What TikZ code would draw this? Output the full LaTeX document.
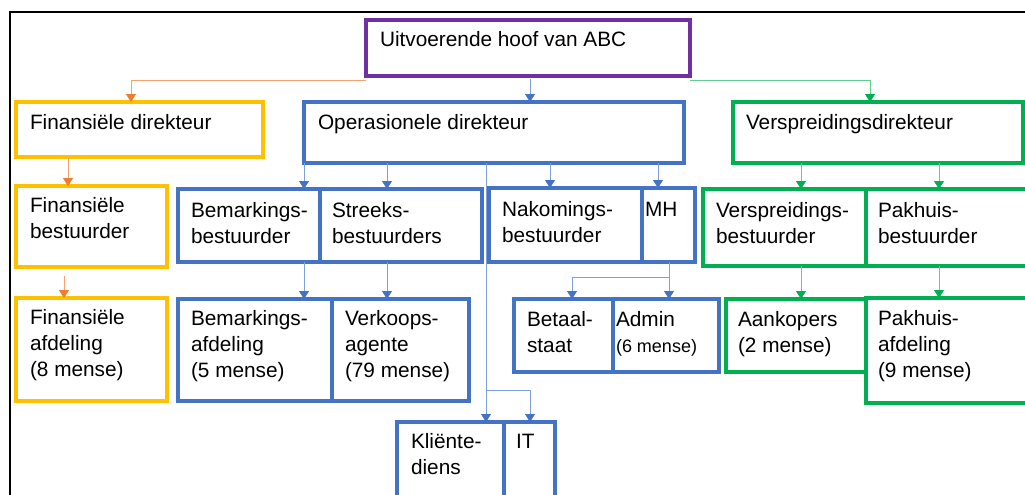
\documentclass[tikz,border=0pt]{standalone}
\usepackage{fontspec}
\setmainfont{Liberation Sans}
\usetikzlibrary{arrows.meta,calc}
\definecolor{cpurple}{HTML}{7030A0}
\definecolor{cyellow}{HTML}{FFC000}
\definecolor{cblue}{HTML}{4472C4}
\definecolor{cgreen}{HTML}{00B050}
\definecolor{corange}{HTML}{ED7D31}
\definecolor{lorange}{HTML}{F4A36C}
\definecolor{lblue}{HTML}{7D9FDA}
\definecolor{lgreen}{HTML}{5FCF8E}
\newcommand\lnstrut{\rule{0pt}{16pt}}
\newcommand\mainsz{\fontsize{20.8}{26.3}\selectfont}
\newcommand\smallsz{\fontsize{18}{26.3}\selectfont}
\tikzset{
  box/.style={draw=#1, line width=3.2pt, anchor=north west, inner sep=0pt,
              outer sep=0pt, fill=white},
  txt/.style={anchor=north west, inner sep=0pt, outer sep=0pt, align=left,
              font=\mainsz, text=black},
  conn/.style={line width=1pt, draw=#1},
  tipo/.style={-{Triangle[width=10pt,length=8pt,color=corange]}},
  tipb/.style={-{Triangle[width=10pt,length=8pt,color=cblue]}},
  tipg/.style={-{Triangle[width=10pt,length=8pt,color=cgreen]}},
}
\begin{document}
\begin{tikzpicture}[x=1pt,y=-1pt]
\clip (0,0) rectangle (1025,495);
% frame
\draw[line width=2pt] (10,520) -- (10,12) -- (1040,12);

% top level
\node[box=cpurple, minimum width=324pt, minimum height=56pt] (ceo) at (366,20) {};
% directors
\node[box=cyellow, minimum width=247pt, minimum height=55pt] (fd) at (16,102) {};
\node[box=cblue,   minimum width=380pt, minimum height=61pt] (od) at (304,102) {};
\node[box=cgreen,  minimum width=290pt, minimum height=61pt] (vd) at (733,102) {};
% managers
\node[box=cyellow, minimum width=151pt, minimum height=81pt] (fb) at (16,186) {};
\node[box=cblue,   minimum width=142pt, minimum height=73pt] (bemb) at (178,189) {};
\node[box=cblue,   minimum width=162pt, minimum height=73pt] (strb) at (320,189) {};
\node[box=cblue,   minimum width=153pt, minimum height=74pt] (nakb) at (489,188) {};
\node[box=cblue,   minimum width=53pt,  minimum height=74pt] (mh) at (642,188) {};
\node[box=cgreen,  minimum width=163pt, minimum height=77pt] (vb) at (703,189) {};
\node[box=cgreen,  minimum width=180pt, minimum height=77pt] (pb) at (866,189) {};
% departments
\node[box=cyellow, minimum width=151pt, minimum height=103pt] (fa) at (16,298) {};
\node[box=cblue,   minimum width=154pt, minimum height=102pt] (bema) at (178,299) {};
\node[box=cblue,   minimum width=137pt, minimum height=102pt] (verk) at (332,299) {};
\node[box=cblue,   minimum width=99pt,  minimum height=73pt] (bet) at (514,299) {};
\node[box=cblue,   minimum width=106pt, minimum height=73pt] (adm) at (613,299) {};
\node[box=cgreen,  minimum width=140pt, minimum height=73pt] (aank) at (726,299) {};
\node[box=cgreen,  minimum width=180pt, minimum height=105pt] (pa) at (866,298) {};
\node[box=cblue,   minimum width=107pt, minimum height=90pt] (kd) at (397,422) {};
\node[box=cblue,   minimum width=51pt,  minimum height=90pt] (it) at (504,422) {};

% labels
\node[txt, xshift=14pt, yshift=-11pt] (ceo-t) at (ceo.north west) {\lnstrut Uitvoerende hoof van ABC};
\node[txt, xshift=14pt, yshift=-11pt] (fd-t) at (fd.north west) {\lnstrut Finansiële direkteur};
\node[txt, xshift=14pt, yshift=-11pt] (od-t) at (od.north west) {\lnstrut Operasionele direkteur};
\node[txt, xshift=13pt, yshift=-11pt] (vd-t) at (vd.north west) {\lnstrut Verspreidingsdirekteur};
\node[txt, xshift=14pt, yshift=-10pt] (fb-t) at (fb.north west) {\lnstrut Finansiële\\bestuurder};
\node[txt, xshift=13pt, yshift=-12pt] (bemb-t) at (bemb.north west) {\lnstrut Bemarkings-\\bestuurder};
\node[txt, xshift=12pt, yshift=-12pt] (strb-t) at (strb.north west) {\lnstrut Streeks-\\bestuurders};
\node[txt, xshift=13pt, yshift=-12pt] (nakb-t) at (nakb.north west) {\lnstrut Nakomings-\\bestuurder};
\node[txt, xshift=3pt,  yshift=-12pt] (mh-t) at (mh.north west) {\lnstrut MH};
\node[txt, xshift=13pt, yshift=-12pt] (vb-t) at (vb.north west) {\lnstrut Verspreidings-\\bestuurder};
\node[txt, xshift=12pt, yshift=-12pt] (pb-t) at (pb.north west) {\lnstrut Pakhuis-\\bestuurder};
\node[txt, xshift=14pt, yshift=-10pt] (fa-t) at (fa.north west) {\lnstrut Finansiële\\afdeling\\(8 mense)};
\node[txt, xshift=13pt, yshift=-10pt] (bema-t) at (bema.north west) {\lnstrut Bemarkings-\\afdeling\\(5 mense)};
\node[txt, xshift=13pt, yshift=-10pt] (verk-t) at (verk.north west) {\lnstrut Verkoops-\\agente\\(79 mense)};
\node[txt, xshift=13pt, yshift=-11pt] (bet-t) at (bet.north west) {\lnstrut Betaal-\\staat};
\node[txt, xshift=3pt,  yshift=-11pt] (adm-t) at (adm.north west) {\lnstrut Admin\\{\smallsz (6 mense)}};
\node[txt, xshift=12pt, yshift=-11pt] (aank-t) at (aank.north west) {\lnstrut Aankopers\\(2 mense)};
\node[txt, xshift=12pt, yshift=-11pt] (pa-t) at (pa.north west) {\lnstrut Pakhuis-\\afdeling\\(9 mense)};
\node[txt, xshift=14pt, yshift=-10pt] (kd-t) at (kd.north west) {\lnstrut Kliënte-\\diens};
\node[txt, xshift=12pt, yshift=-10pt] (it-t) at (it.north west) {\lnstrut IT};

% connectors from the executive head
\draw[conn=lorange, tipo] ([yshift=-4pt]ceo.south west) -| ([xshift=115pt]fd.north west);
\draw[conn=lblue, tipb] ([xshift=2pt,yshift=-3pt]ceo.south) -- ([xshift=2pt]ceo.south |- od.north);
\draw[conn=lgreen, tipg] ([yshift=-4pt]ceo.south east) -| ([xshift=137pt]vd.north west);

% finance column
\draw[conn=lorange, tipo] ([xshift=52pt]fd.south west) -- ([xshift=52pt]fb.north west);
\draw[conn=lorange, tipo] ([xshift=48pt,yshift=-9pt]fb.south west) -- ([xshift=48pt]fa.north west);

% operations
\draw[conn=lblue, tipb] (od.south west) -- (od.south west |- bemb.north);
\draw[conn=lblue, tipb] ([xshift=83pt]od.south west) -- ([xshift=67pt]strb.north west);
\draw[conn=lblue, tipb] ([xshift=246pt]od.south west) -- ([xshift=61pt]nakb.north west);
\draw[conn=lblue, tipb] ([xshift=354pt]od.south west) -- ([xshift=16pt]mh.north west);
\draw[conn=lblue, tipb] ([xshift=182pt]od.south west) -- ([xshift=89pt]kd.north west);
\coordinate (itbr) at ([xshift=182pt]od.south west |- 0,390);
\draw[conn=lblue, tipb] (itbr) -| ([xshift=26pt]it.north west);

\draw[conn=lblue, tipb] ([xshift=126pt]bemb.south west) -- ([xshift=126pt]bema.north west);
\draw[conn=lblue, tipb] ([xshift=67pt]strb.south west) -- ([xshift=55pt]verk.north west);
\draw[conn=lblue, tipb] ([xshift=27pt]mh.south west) -- ([xshift=56pt]adm.north west);
\coordinate (mhbr) at ([xshift=27pt]mh.south west |- 0,277);
\draw[conn=lblue, tipb] (mhbr) -| ([xshift=58pt]bet.north west);

% distribution
\draw[conn=lgreen, tipg] ([xshift=68pt]vd.south west) -- ([xshift=98pt]vb.north west);
\draw[conn=lgreen, tipg] ([xshift=206pt]vd.south west) -- ([xshift=73pt]pb.north west);
\draw[conn=lgreen, tipg] ([xshift=98pt]vb.south west) -- ([xshift=75pt]aank.north west);
\draw[conn=lgreen, tipg] ([xshift=73pt]pb.south west) -- ([xshift=73pt]pa.north west);
\end{tikzpicture}
\end{document}
